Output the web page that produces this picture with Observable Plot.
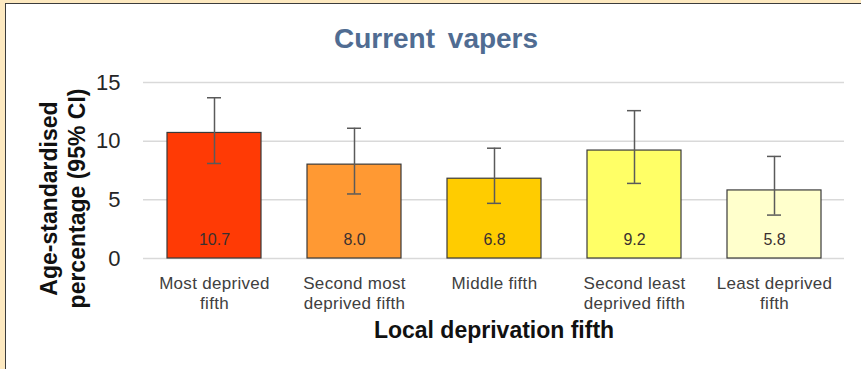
<!DOCTYPE html>
<html>
<head>
<meta charset="utf-8">
<script src="https://cdn.jsdelivr.net/npm/d3@7"></script>
<script src="https://cdn.jsdelivr.net/npm/@observablehq/plot@0.6"></script>
<style>
  html, body { margin: 0; padding: 0; background: #ffffff; }
  #wrap { position: relative; width: 861px; height: 369px; background: #fde9c0; overflow: hidden; font-family: "Liberation Sans", Arial, sans-serif; }
  #panel { position: absolute; left: 5px; top: 3px; right: 0; bottom: 0; background: #ffffff; border-left: 1.5px solid #3c3c3c; border-top: 1.5px solid #3c3c3c; }
  #title { position: absolute; left: 236px; width: 400px; top: 23px; line-height: 32px; text-align: center; font-size: 28px; font-weight: bold; color: #506c92; word-spacing: 5px; }
  #chart { position: absolute; left: 0; top: 0; }
  #chart svg { background: transparent; }
</style>
</head>
<body>
<div id="wrap">
  <div id="panel"></div>
  <div id="title">Current vapers</div>
  <div id="chart"></div>
</div>
<script>
const categories = ["Most deprived\nfifth", "Second most\ndeprived fifth", "Middle fifth", "Second least\ndeprived fifth", "Least deprived\nfifth"];
const values = [10.7, 8.0, 6.8, 9.2, 5.8];
const lower = [8.1, 5.5, 4.7, 6.4, 3.7];
const upper = [13.7, 11.1, 9.4, 12.6, 8.7];
const barColors = ["#ff3a05", "#ff9933", "#ffcc00", "#ffff66", "#ffffcc"];
const yTicks = [0, 5, 10, 15];
const yTitleLines = ["Age-standardised", "percentage (95% CI)"];
const xTitle = "Local deprivation fifth";

const data = categories.map((c, i) => ({cat: c, value: values[i], lo: lower[i], hi: upper[i]}));
const font = "'Liberation Sans', Arial, sans-serif";

const chart = Plot.plot({
  width: 861,
  height: 369,
  marginLeft: 143,
  marginRight: 17,
  marginTop: 82,
  marginBottom: 111,
  style: {fontFamily: font, background: "transparent"},
  x: {domain: categories, paddingInner: 0.33, paddingOuter: 0.165, label: null},
  y: {domain: [0, 15], label: null},
  color: {domain: categories, range: barColors},
  marks: [
    Plot.gridY(yTicks, {stroke: "#d9d9d9", strokeOpacity: 1, strokeWidth: 1.5}),
    Plot.axisY(yTicks, {tickSize: 0, tickPadding: 23, fontSize: 22, fill: "#262626", label: null, tickFormat: d => String(d)}),
    Plot.axisX({tickSize: 0, tickPadding: 17, fontSize: 17, fill: "#404040", lineHeight: 1.15, label: null}),
    Plot.barY(data, {x: "cat", y: "value", fill: "cat", stroke: "#3a3a3a", strokeWidth: 1.2}),
    Plot.ruleX(data, {x: "cat", y1: "lo", y2: "hi", stroke: "#5a5a5a", strokeWidth: 1.5}),
    Plot.tickY(data, {x: "cat", y: "hi", stroke: "#5a5a5a", strokeWidth: 1.5, insetLeft: 40, insetRight: 40}),
    Plot.tickY(data, {x: "cat", y: "lo", stroke: "#5a5a5a", strokeWidth: 1.5, insetLeft: 40, insetRight: 40}),
    Plot.text(data, {x: "cat", y: 0, text: d => d.value.toFixed(1), dy: -19, fontSize: 16, fill: "#3a3030", lineAnchor: "middle"}),
    Plot.text([xTitle], {text: d => d, frameAnchor: "bottom", dy: 72, fontSize: 23, fontWeight: "bold", fill: "#111111", lineAnchor: "middle"}),
    Plot.text([yTitleLines[0]], {text: d => d, frameAnchor: "left", rotate: -90, dx: -94, dy: 28, fontSize: 23, fontWeight: "bold", fill: "#111111", lineAnchor: "middle", textAnchor: "middle"}),
    Plot.text([yTitleLines[1]], {text: d => d, frameAnchor: "left", rotate: -90, dx: -66, dy: 28, fontSize: 23, fontWeight: "bold", fill: "#111111", lineAnchor: "middle", textAnchor: "middle"})
  ]
});
d3.select(chart).selectAll("g[aria-label='x-axis tick label'] text").style("letter-spacing", "0.3px");
document.getElementById("chart").appendChild(chart);
</script>
</body>
</html>
